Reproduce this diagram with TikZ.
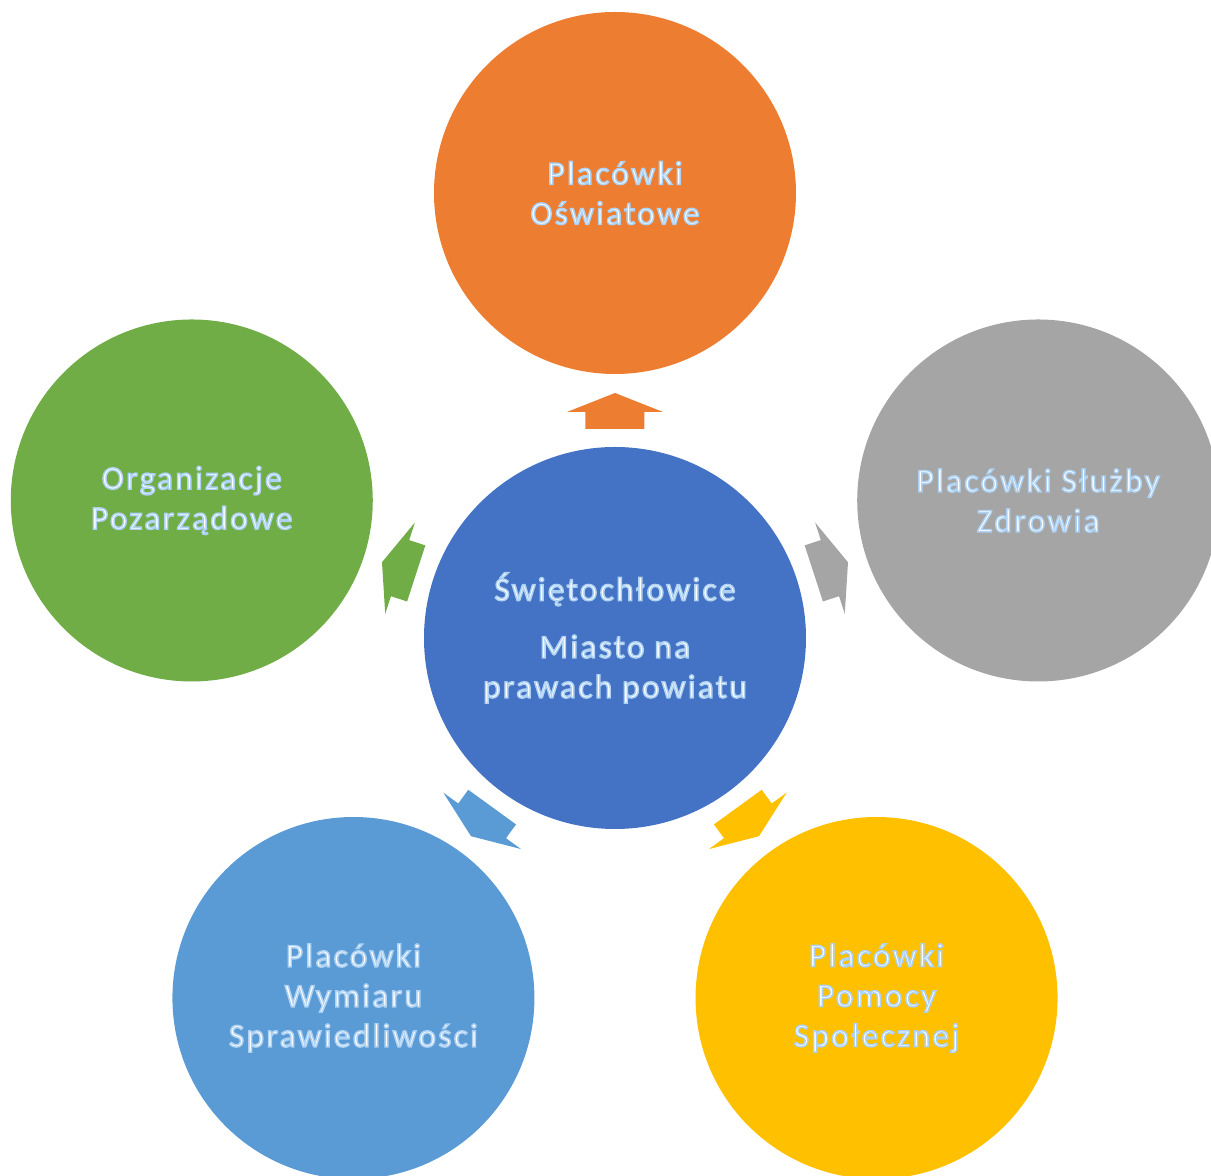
\documentclass[tikz,border=0pt]{standalone}
\usepackage{fontspec}
\setmainfont{Carlito}[LetterSpace=7]
\definecolor{cOrange}{HTML}{ED7D31}
\definecolor{cBlue}{HTML}{4472C4}
\definecolor{cGray}{HTML}{A5A5A5}
\definecolor{cYellow}{HTML}{FFC000}
\definecolor{cLBlue}{HTML}{5B9BD5}
\definecolor{cGreen}{HTML}{70AD47}
\newcommand{\gl}[1]{\special{pdf:literal direct 2 Tr 1.1 w 0.68 0.82 0.95 RG}#1\special{pdf:literal direct 0 Tr}}
\begin{document}
\begin{tikzpicture}[x=0.75pt,y=0.75pt,
  bubble/.style={circle,minimum size=362*0.75pt,inner sep=0pt},
  lbl/.style={text=white,align=center,font=\fontsize{25}{30}\selectfont}]
\clip (-615,-538) rectangle (596,638);
\useasboundingbox (-615,-538) rectangle (596,638);
\node[circle,minimum size=382*0.75pt,inner sep=0pt,fill=cBlue] (c) at (0,0) {};
\node[bubble,fill=cOrange] (t) at (90:445) {};
\node[bubble,fill=cGray] (r) at (18:445) {};
\node[bubble,fill=cGreen] (l) at (162:445) {};
\node[bubble,fill=cLBlue] (bl) at (234:445) {};
\node[bubble,fill=cYellow] (br) at (306:445) {};
\foreach \a/\col in {90/cOrange,18/cGray,162/cGreen,234/cLBlue,306/cYellow}{
  \begin{scope}[rotate=\a-90]
    \fill[\col] (-29.5,209) -- (29.5,209) -- (29.5,226) -- (48,226) -- (0,245) -- (-48,226) -- (-29.5,226) -- cycle;
  \end{scope}
}
\node[lbl] at (c.center) {\gl{Świętochłowice\\[13pt]Miasto na\\prawach powiatu}};
\node[lbl] at (t.center) {\gl{Placówki\\Oświatowe}};
\node[lbl] at (r.center) {\gl{Placówki Służby\\Zdrowia}};
\node[lbl] at (l.center) {\gl{Organizacje\\Pozarządowe}};
\node[lbl] at (bl.center) {\gl{Placówki\\Wymiaru\\Sprawiedliwości}};
\node[lbl] at (br.center) {\gl{Placówki\\Pomocy\\Społecznej}};
\end{tikzpicture}
\end{document}
